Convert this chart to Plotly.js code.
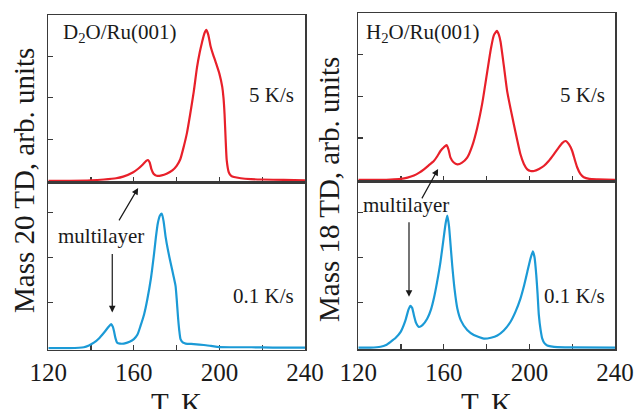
<!DOCTYPE html>
<html>
<head>
<meta charset="utf-8">
<script src="https://cdn.plot.ly/plotly-3.0.1.min.js"></script>
<style>html,body{margin:0;padding:0;background:#fff;}#chart{width:635px;height:409px;}</style>
</head>
<body>
<div id="chart"></div>
<script>
// ---- data (T in K, signal in arb. units = tick spacings) ----
const d2oFastT = [120,130,140,146,151.7,155,159.5,162,164.3,165.8,166.6,167.4,168.2,169.2,170.6,173,175.3,178,180,181.7,183.2,184.8,186.3,188,189.5,190.8,191.9,193,193.9,194.8,195.8,197,198.2,200,201.3,201.9,202.4,202.9,203.4,204.4,205.5,206.8,210,214.7,220,230,240];
const d2oFastY = [0,0,0.01,0.03,0.06,0.1,0.2,0.29,0.4,0.48,0.5,0.44,0.28,0.17,0.12,0.13,0.17,0.25,0.36,0.52,0.8,1.15,1.6,2.15,2.73,3.1,3.35,3.56,3.64,3.52,3.26,3.05,2.87,2.58,2.27,2.0,1.6,1.0,0.5,0.2,0.12,0.09,0.06,0.04,0.03,0.02,0.01];

const d2oSlowT = [120,130,136.6,139,141.3,143.8,146,148,149.4,150.2,150.7,151.4,152.2,153.5,155.3,158,160,161.7,163.1,164.8,166.3,168,169.3,170.3,171.2,172.2,173.1,173.9,174.8,176,177.2,178.5,179.5,180,180.6,181.2,181.8,183,184.2,188,192.7,196,199,205,215,225,240];
const d2oSlowY = [0,0,0.02,0.06,0.12,0.22,0.34,0.46,0.53,0.47,0.38,0.22,0.12,0.1,0.1,0.14,0.2,0.3,0.49,0.75,1.08,1.55,2.03,2.45,2.76,2.93,2.97,2.8,2.47,2.15,1.88,1.6,1.37,1.1,0.71,0.4,0.2,0.12,0.1,0.09,0.07,0.05,0.03,0.02,0.02,0.01,0.01];

const h2oFastT = [120,130.4,135,139.8,143,146,148.5,150.7,153,155.3,157,158.4,160,161.3,162.2,163.1,164.5,166.3,168.5,170.9,173.3,175.6,178,180.3,182,183.4,184.8,185.7,186.5,188,189.6,191.2,192.7,194.3,195.8,197.4,199,200.5,202.1,204.5,206.7,209,211.4,213.5,215.3,216.9,218.5,220,221.2,222.3,223.8,225.4,228,232,240];
const h2oFastY = [0,0,0.005,0.02,0.05,0.1,0.17,0.25,0.35,0.45,0.57,0.69,0.78,0.83,0.72,0.53,0.42,0.37,0.41,0.53,0.82,1.25,1.85,2.6,3.15,3.47,3.57,3.48,3.31,2.75,2.12,1.7,1.33,0.95,0.61,0.38,0.25,0.21,0.21,0.26,0.33,0.45,0.61,0.76,0.88,0.93,0.85,0.69,0.48,0.3,0.14,0.06,0.02,0.01,0];

const h2oSlowT = [120,125.7,130.4,133,135.1,137.5,139.8,142,143.5,144.4,145.2,146,147,148.3,150,152.2,154,155.3,156.8,158.4,159.8,160.8,161.6,162.4,163.1,163.9,165,166.3,168,170.9,174,178.7,182,185,188,191.1,193.5,195.8,197.5,199,200.5,201.6,202.4,203.2,203.8,204.4,205.2,206,207,208.3,210,213,220,240];
const h2oSlowY = [0,0,0.02,0.06,0.13,0.22,0.35,0.6,0.85,0.93,0.88,0.72,0.55,0.46,0.5,0.64,0.85,1.09,1.45,1.9,2.4,2.75,2.93,2.7,2.3,1.83,1.3,0.87,0.6,0.39,0.28,0.2,0.22,0.27,0.38,0.57,0.8,1.09,1.38,1.68,1.98,2.14,2.0,1.61,1.2,0.72,0.4,0.2,0.1,0.05,0.03,0.01,0.005,0];

const xTickVals = [120,140,160,180,200,220,240];
const xTickText = ['120','','160','','200','','240'];
const yTickVals = [1,2,3];

const RED = '#e8202a', BLUE = '#1b9ad6', FRAME = '#3a3a3a', TXT = '#1a1a1a';
const SERIF = '"Liberation Serif", "Times New Roman", serif';

function tr(x, y, color, xa, ya) {
  return {x: x, y: y, type: 'scatter', mode: 'lines', xaxis: xa, yaxis: ya,
          line: {color: color, width: 2.2, shape: 'spline', smoothing: 0.5}, hoverinfo: 'skip', showlegend: false};
}
const data = [
  tr(d2oFastT, d2oFastY, RED, 'x', 'y'),
  tr(d2oSlowT, d2oSlowY, BLUE, 'x2', 'y2'),
  tr(h2oFastT, h2oFastY, RED, 'x3', 'y3'),
  tr(h2oSlowT, h2oSlowY, BLUE, 'x4', 'y4')
];

function xax(domain, anchor, labels) {
  return {domain: domain, anchor: anchor, range: [120, 240], tickmode: 'array',
          tickvals: xTickVals, ticktext: xTickText, ticks: 'inside', ticklen: 5, tickwidth: 1.2,
          tickcolor: FRAME, showticklabels: labels, showline: true, mirror: true,
          linecolor: FRAME, linewidth: 1.5, showgrid: false, zeroline: false, layer: 'below traces',
          tickfont: {family: SERIF, size: 25, color: TXT}};
}
function yax(domain, anchor, top) {
  return {domain: domain, anchor: anchor, range: [-0.03, top], tickmode: 'array',
          tickvals: yTickVals, ticks: 'inside', ticklen: 5, tickwidth: 1.2, tickcolor: FRAME,
          showticklabels: false, showline: true, mirror: true, linecolor: FRAME, linewidth: 1.5,
          showgrid: false, zeroline: false, layer: 'below traces'};
}
const W = 635, H = 409;
const px = v => v / W, py = v => 1 - v / H;

const LX = [px(48.3), px(305)], RX = [px(358.3), px(615)];

function txt(text, x, y, xanchor, size, yanchor) {
  return {text: text, xref: 'paper', yref: 'paper', x: px(x), y: py(y), xanchor: xanchor,
          yanchor: yanchor || 'middle', showarrow: false, font: {family: SERIF, size: size, color: TXT}};
}
function arrow(xref, yref, x, y, ax, ay) {
  return {text: '', xref: xref, yref: yref, x: x, y: y, ax: ax, ay: ay, showarrow: true,
          arrowhead: 2, arrowsize: 1.1, arrowwidth: 1.2, arrowcolor: TXT, standoff: 0, startstandoff: 0};
}

const layout = {
  width: W, height: H, margin: {l: 0, r: 0, t: 0, b: 0},
  paper_bgcolor: '#fff', plot_bgcolor: '#fff', showlegend: false,
  xaxis: xax(LX, 'y', false),
  yaxis: yax([py(182), py(15)], 'x', 4),
  xaxis2: xax(LX, 'y2', true),
  yaxis2: yax([py(349.5), py(182)], 'x2', 3.67),
  xaxis3: xax(RX, 'y3', false),
  yaxis3: yax([py(181), py(13)], 'x3', 4),
  xaxis4: xax(RX, 'y4', true),
  yaxis4: yax([py(349), py(181)], 'x4', 3.7),
  annotations: [
    txt('D<sub>2</sub>O/Ru(001)', 61, 33, 'left', 21),
    txt('5 K/s', 296, 95, 'right', 21),
    txt('0.1 K/s', 296, 296, 'right', 21),
    txt('multilayer', 101, 236, 'center', 21),
    txt('H<sub>2</sub>O/Ru(001)', 364, 33, 'left', 21),
    txt('5 K/s', 607, 95, 'right', 21),
    txt('0.1 K/s', 607, 296, 'right', 21),
    txt('multilayer', 406, 205, 'center', 21),
    Object.assign(txt('Mass 20 TD, arb. units', 24, 181, 'center', 29), {textangle: -90}),
    Object.assign(txt('Mass 18 TD, arb. units', 329, 190, 'center', 29), {textangle: -90}),
    txt('T, K', 176.7, 403, 'center', 29),
    txt('T, K', 486.7, 403, 'center', 29),
    arrow('x2', 'y2', 149.9, 0.79, 0, -60),
    arrow('x2', 'y2', 162, 3.54, -20, 34),
    arrow('x4', 'y4', 143.7, 1.13, 0, -76),
    arrow('x3', 'y3', 157.3, 0.26, -17, 31)
  ]
};

Plotly.newPlot('chart', data, layout, {staticPlot: true, displayModeBar: false});
</script>
</body>
</html>
